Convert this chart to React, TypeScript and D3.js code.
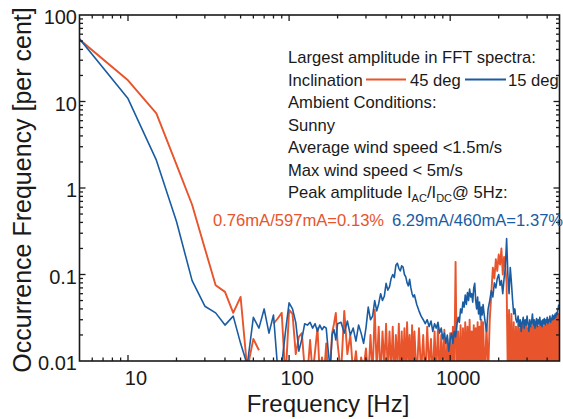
import React from 'react';
import * as d3 from 'd3';

const W = 563;
const H = 419;

const bandSteps = [
  [5, 200, 5],
  [210, 600, 10],
  [620, 1600, 20],
  [1640, 4720, 40],
];

// 45 deg inclination (red), per cent
const red45Band1 = [
  52, 17.6, 7.3, 1.86, 0.64, 0.2, 0.075, 0.063, 0.036, 0.055,
  0.008, 0.018, 0.0133, null, null, 0.027, 0.031, 0.036, 0.006, 0.039,
  0.035, 0.012, 0.019, 0.021, 0.008, 0.007, 0.0175, 0.007, 0.013, 0.024,
  0.007, 0.011, 0.007, 0.016, 0.006, 0.009, 0.021, 0.027, 0.036, 0.016,
];
const red45Band2 = [
  0.007, 0.038, 0.012, 0.02, 0.007, 0.013, 0.006, 0.011, 0.008, 0.014,
  0.006, 0.02, 0.007, 0.039, 0.008, 0.025, 0.006, 0.022, 0.009, 0.027,
  0.007, 0.022, 0.008, 0.025, 0.006, 0.02, 0.009, 0.027, 0.006, 0.022,
  0.008, 0.024, 0.007, 0.028, 0.009, 0.02, 0.006, 0.026, 0.008, 0.022,
];
const red45Band3 = [
  0.006, 0.024, 0.007, 0.02, 0.006, 0.025, 0.008, 0.018, 0.006, 0.022,
  0.007, 0.026, 0.006, 0.02, 0.008, 0.023, 0.006, 0.018, 0.007, 0.021,
  0.006, 0.025, 0.007, 0.14, 0.006, 0.022, 0.007, 0.026, 0.006, 0.024,
  0.008, 0.028, 0.006, 0.025, 0.007, 0.03, 0.006, 0.022, 0.008, 0.026,
  0.006, 0.024, 0.007, 0.028, 0.006, 0.025, 0.008, 0.03, 0.007, 0.028,
];
const red45Band4 = [
  0.006, 0.026, 0.007, 0.03, 0.06, 0.12, 0.09, 0.15, 0.11, 0.17,
  0.13, 0.2, 0.1, 0.16, 0.12, 0.08, 0.006, 0.039, 0.007, 0.035,
  0.006, 0.028, 0.007, 0.025, 0.006, 0.027, 0.007, 0.024, 0.006, 0.028,
  0.007, 0.025, 0.006, 0.027, 0.007, 0.024, 0.006, 0.028, 0.007, 0.025,
  0.006, 0.027, 0.007, 0.026, 0.006, 0.028, 0.007, 0.025, 0.006, 0.027,
  0.007, 0.026, 0.006, 0.028, 0.007, 0.025, 0.006, 0.029, 0.007, 0.027,
  0.006, 0.03, 0.007, 0.028, 0.006, 0.03, 0.007, 0.032, 0.006, 0.03,
  0.007, 0.033, 0.006, 0.034, 0.007, 0.035, 0.006, 0.036,
];

// 15 deg inclination (blue), per cent
const blue15Band1 = [
  53, 10.8, 2.1, 0.41, 0.085, 0.043, 0.036, 0.026, 0.033, 0.016,
  0.009, 0.032, 0.024, 0.04, 0.021, 0.034, 0.008, 0.009, 0.022, 0.047,
  0.04, 0.028, 0.013, 0.018, 0.027, 0.026, 0.028, 0.024, 0.027, 0.022,
  0.026, 0.023, 0.025, 0.024, 0.013, 0.008, 0.02, 0.023, 0.0175, 0.027,
];
const blue15Band2 = [
  0.028, 0.021, 0.029, 0.02, 0.024, 0.017, 0.026, 0.021, 0.016, 0.024,
  0.042, 0.03, 0.033, 0.05, 0.038, 0.046, 0.06, 0.05, 0.056, 0.079,
  0.066, 0.072, 0.09, 0.1, 0.092, 0.128, 0.135, 0.118, 0.11, 0.126,
  0.122, 0.1, 0.094, 0.08, 0.074, 0.088, 0.07, 0.06, 0.055, 0.058,
];
const blue15Band3 = [
  0.045, 0.038, 0.033, 0.03, 0.027, 0.03, 0.025, 0.029, 0.022, 0.027,
  0.024, 0.028, 0.021, 0.024, 0.018, 0.021, 0.016, 0.02, 0.013, 0.0175,
  0.021, 0.016, 0.022, 0.019, 0.026, 0.032, 0.028, 0.04, 0.036, 0.048,
  0.042, 0.058, 0.045, 0.062, 0.05, 0.068, 0.055, 0.06, 0.048, 0.07,
  0.079, 0.05, 0.04, 0.055, 0.035, 0.048, 0.03, 0.042, 0.034, 0.045,
];
const blue15Band4 = [
  0.03, 0.022, 0.04, 0.05, 0.065, 0.055, 0.08, 0.07, 0.09, 0.1,
  0.075, 0.085, 0.06, 0.09, 0.12, 0.26, 0.1, 0.06, 0.12, 0.08,
  0.05, 0.035, 0.04, 0.03, 0.028, 0.033, 0.025, 0.03, 0.022, 0.028,
  0.032, 0.024, 0.03, 0.026, 0.033, 0.027, 0.022, 0.03, 0.025, 0.028,
  0.035, 0.026, 0.03, 0.024, 0.028, 0.031, 0.025, 0.03, 0.027, 0.032,
  0.026, 0.029, 0.025, 0.03, 0.027, 0.031, 0.026, 0.03, 0.028, 0.032,
  0.027, 0.03, 0.029, 0.033, 0.028, 0.031, 0.03, 0.034, 0.03, 0.033,
  0.031, 0.035, 0.032, 0.036, 0.034, 0.038, 0.04, 0.045,
];

const xTickValues = [10, 100, 1000];
const xTickLabels = ['10', '100', '1000'];
const yTickValues = [0.01, 0.1, 1, 10, 100];
const yTickLabels = ['0.01', '0.1', '1', '10', '100'];

const legendLines = [
  'Largest amplitude in FFT spectra:',
  null,
  'Ambient Conditions:',
  'Sunny',
  'Average wind speed <1.5m/s',
  'Max wind speed < 5m/s',
];

const RED = '#e8542b';
const BLUE = '#1a5ca2';
const INK = '#1a1a1a';
const FONT = '"Liberation Sans", Arial, sans-serif';

const freq = bandSteps.flatMap(([a, b, s]) => d3.range(a, b + s / 2, s));
const red45 = [...red45Band1, ...red45Band2, ...red45Band3, ...red45Band4];
const blue15 = [...blue15Band1, ...blue15Band2, ...blue15Band3, ...blue15Band4];

export default function App() {
  const left = 79.5, right = 559.5, top = 15, bottom = 361;

  const x = d3.scaleLog().domain([5, 4770]).range([left, right]);
  const y = d3.scaleLog().domain([0.01, 100]).range([bottom, top]);

  const line = d3.line<number | null>()
    .defined(v => v != null)
    .x((_, i) => x(freq[i]))
    .y(v => y(v as number));

  const isMajor = (t: number) => Math.abs(Math.log10(t) - Math.round(Math.log10(t))) < 1e-9;
  const xTicks = x.ticks().filter(t => t > 5 && t < 4770);
  const yTicks = y.ticks().filter(t => t > 0.01 && t < 100);

  const legendX = 288;
  const lineGap = 22.5;
  const legendY0 = 63;

  return (
    <svg width={W} height={H} style={{ position: 'absolute', left: 0, top: 0, background: '#fff' }}
      fontFamily={FONT}>
      <defs>
        <clipPath id="plot">
          <rect x={left} y={top} width={right - left} height={bottom - top} />
        </clipPath>
      </defs>

      <g clipPath="url(#plot)" fill="none" strokeLinejoin="round">
        <path d={line(red45) || ''} stroke={RED} strokeWidth={1.9} />
        <path d={line(blue15) || ''} stroke={BLUE} strokeWidth={1.6} />
      </g>

      {/* frame */}
      <rect x={left} y={top} width={right - left} height={bottom - top} fill="none" stroke={INK} strokeWidth={1.6} />

      {/* x ticks, inward on top and bottom */}
      {xTicks.map(t => {
        const len = isMajor(t) ? 6 : 3.5;
        return (
          <g key={'x' + t} stroke={INK} strokeWidth={1.3}>
            <line x1={x(t)} x2={x(t)} y1={bottom} y2={bottom - len} />
            <line x1={x(t)} x2={x(t)} y1={top} y2={top + len} />
          </g>
        );
      })}
      {/* y ticks, inward on left and right */}
      {yTicks.map(t => {
        const len = isMajor(t) ? 6 : 3.5;
        return (
          <g key={'y' + t} stroke={INK} strokeWidth={1.3}>
            <line x1={left} x2={left + len} y1={y(t)} y2={y(t)} />
            <line x1={right} x2={right - len} y1={y(t)} y2={y(t)} />
          </g>
        );
      })}

      {xTickValues.map((t, i) => (
        <text key={'xl' + t} x={x(t) + 8} y={385} textAnchor="middle" fontSize={20} fill={INK}>
          {xTickLabels[i]}
        </text>
      ))}
      {yTickValues.map((t, i) => (
        <text key={'yl' + t} x={77} y={y(t) + 9} textAnchor="end" fontSize={20} fill={INK}>
          {yTickLabels[i]}
        </text>
      ))}

      <text x={328} y={412} textAnchor="middle" fontSize={24} fill={INK}>Frequency [Hz]</text>
      <text transform={`translate(31,${(top + bottom) / 2 + 2}) rotate(-90)`} textAnchor="middle" fontSize={25} fill={INK}>
        Occurrence Frequency [per cent]
      </text>

      {/* annotation block */}
      <g fontSize={16.6} fill={INK}>
        {legendLines.map((s, i) => s && (
          <text key={'lg' + i} x={legendX} y={legendY0 + i * lineGap}>{s}</text>
        ))}
        <text x={legendX} y={legendY0 + lineGap}>Inclination</text>
        <line x1={366} x2={406} y1={legendY0 + lineGap - 6} y2={legendY0 + lineGap - 6} stroke={RED} strokeWidth={1.8} />
        <text x={410} y={legendY0 + lineGap}>45 deg</text>
        <line x1={465} x2={506} y1={legendY0 + lineGap - 6} y2={legendY0 + lineGap - 6} stroke={BLUE} strokeWidth={1.8} />
        <text x={508} y={legendY0 + lineGap}>15 deg</text>
        <text x={legendX} y={legendY0 + 6 * lineGap}>
          Peak amplitude I
          <tspan fontSize={11} dy={4}>AC</tspan>
          <tspan dy={-4}>/I</tspan>
          <tspan fontSize={11} dy={4}>DC</tspan>
          <tspan dy={-4}>@ 5Hz:</tspan>
        </text>
        <text x={213} y={226} fill={RED}>0.76mA/597mA=0.13%</text>
        <text x={392} y={226} fill={BLUE}>6.29mA/460mA=1.37%</text>
      </g>
    </svg>
  );
}
